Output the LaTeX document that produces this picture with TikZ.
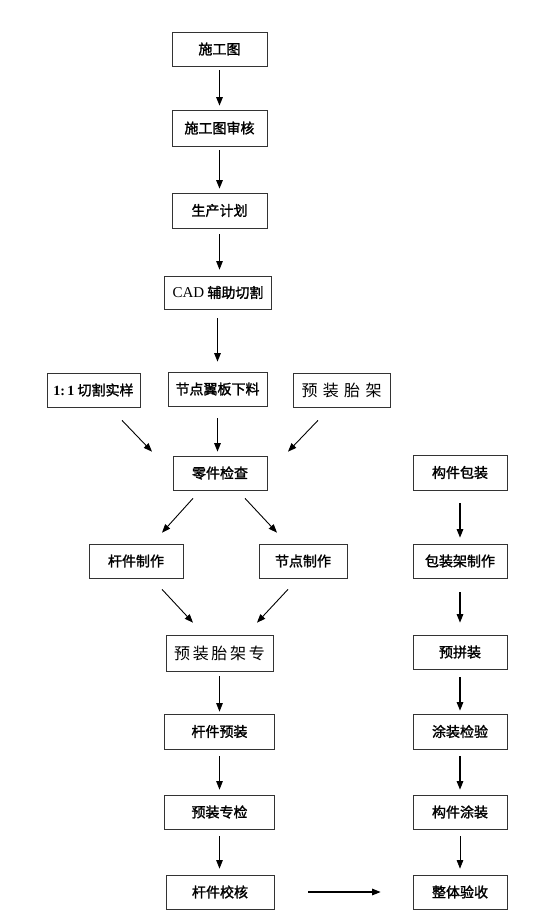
\documentclass[tikz,border=0pt]{standalone}
\usepackage{fontspec}
\setmainfont{Liberation Serif}
\newfontfamily\cjk[RawFeature={embolden=1.6}]{Noto Sans CJK SC}
\newfontfamily\cjkthin{Noto Sans CJK SC}
\usetikzlibrary{arrows.meta}
\begin{document}
\begin{tikzpicture}[x=1pt,y=-1pt,
  box/.style={draw=black!80, line width=0.7pt, minimum height=34pt, inner sep=0pt,
    font=\cjk\fontsize{14}{14}\selectfont},
  wbox/.style={box, font=\cjkthin\fontsize{16}{16}\selectfont},
  arr/.style={-{Triangle[length=8.5pt,width=6.5pt]}, line width=1.1pt},
  tarr/.style={-{Triangle[length=8.5pt,width=6.5pt]}, line width=0.7pt}]
\useasboundingbox (0,0) rectangle (555,913);
% left/center column
\node[box, minimum width=95pt] (n1) at (219.5,49) {施工图};
\node[box, minimum width=95pt, minimum height=36pt] (n2) at (219.5,128) {施工图审核};
\node[box, minimum width=95pt, minimum height=35pt] (n3) at (219.5,210.5) {生产计划};
\node[box, minimum width=107pt, minimum height=33pt] (n4) at (218,292.5) {{\rmfamily\fontsize{15}{15}\selectfont CAD} 辅助切割};
\node[box, minimum width=93pt] (n5) at (93.5,390) {{\rmfamily\bfseries 1:\,1} 切割实样};
\node[box, minimum width=99pt] (n6) at (217.5,389) {节点翼板下料};
\node[wbox, minimum width=97pt] (n7) at (341.5,390) {预\,\,装\,\,胎\,\,架};
\node[box, minimum width=94pt] (n8) at (220,473) {零件检查};
\node[box, minimum width=94pt] (n9) at (136,561) {杆件制作};
\node[box, minimum width=88pt] (n10) at (303,561) {节点制作};
\node[wbox, minimum width=107pt, minimum height=36pt] (n11) at (219.5,653) {预\,装\,胎\,架\,专};
\node[box, minimum width=110pt, minimum height=35pt] (n12) at (219.5,731.5) {杆件预装};
\node[box, minimum width=110pt] (n13) at (219.5,812) {预装专检};
\node[box, minimum width=108pt] (n14) at (220,892) {杆件校核};
% right column
\node[box, minimum width=94pt, minimum height=35pt] (n18) at (460,472.5) {构件包装};
\node[box, minimum width=94pt] (n19) at (460,561) {包装架制作};
\node[box, minimum width=94pt] (n20) at (460,652) {预拼装};
\node[box, minimum width=94pt, minimum height=35pt] (n17) at (460,731.5) {涂装检验};
\node[box, minimum width=94pt] (n16) at (460,812) {构件涂装};
\node[box, minimum width=94pt] (n15) at (460,892) {整体验收};
% arrows
\draw[arr] ([yshift=-4pt]n1.south) -- ([yshift=4pt]n2.north);
\draw[arr] ([yshift=-4pt]n2.south) -- ([yshift=4pt]n3.north);
\draw[tarr] ([yshift=-6pt]n3.south) -- ([yshift=6pt]n3.south |- n4.north);
\draw[arr] ([shift={(-0.5,9)}]n4.south) -- ([shift={(0,-10)}]n6.north);
\draw[tarr, line width=0.9pt] ([shift={(28.5,13)}]n5.south) -- ([shift={(-68,-4)}]n8.north);
\draw[arr] ([shift={(0,12)}]n6.south) -- ([shift={(-2.5,-4)}]n8.north);
\draw[tarr, line width=0.9pt] ([shift={(-23.5,13)}]n7.south) -- ([shift={(68,-4)}]n8.north);
\draw[tarr, line width=0.9pt] ([shift={(-27,8)}]n8.south) -- ([shift={(26,-11)}]n9.north);
\draw[tarr, line width=0.9pt] ([shift={(25,8)}]n8.south) -- ([shift={(-26,-11)}]n10.north);
\draw[tarr, line width=0.9pt] ([shift={(26,11)}]n9.south) -- ([shift={(-26.5,-12)}]n11.north);
\draw[tarr, line width=0.9pt] ([shift={(-15,11)}]n10.south) -- ([shift={(37.5,-12)}]n11.north);
\draw[tarr] ([yshift=-5pt]n11.south) -- ([yshift=2pt]n12.north);
\draw[tarr] ([yshift=-7pt]n12.south) -- ([yshift=5pt]n13.north);
\draw[tarr] ([yshift=-7pt]n13.south) -- ([yshift=6pt]n13.south |- n14.north);
\draw[arr] ([xshift=34pt]n14.east) -- ([xshift=-32pt]n15.west);
\draw[arr] ([yshift=-13pt]n18.south) -- ([yshift=6pt]n19.north);
\draw[arr] ([yshift=-14pt]n19.south) -- ([yshift=12pt]n20.north);
\draw[arr] ([yshift=-8pt]n20.south) -- ([yshift=3pt]n17.north);
\draw[arr] ([yshift=-7pt]n17.south) -- ([yshift=5pt]n16.north);
\draw[tarr] ([yshift=-7pt]n16.south) -- ([yshift=6pt]n15.north);
\end{tikzpicture}
\end{document}
